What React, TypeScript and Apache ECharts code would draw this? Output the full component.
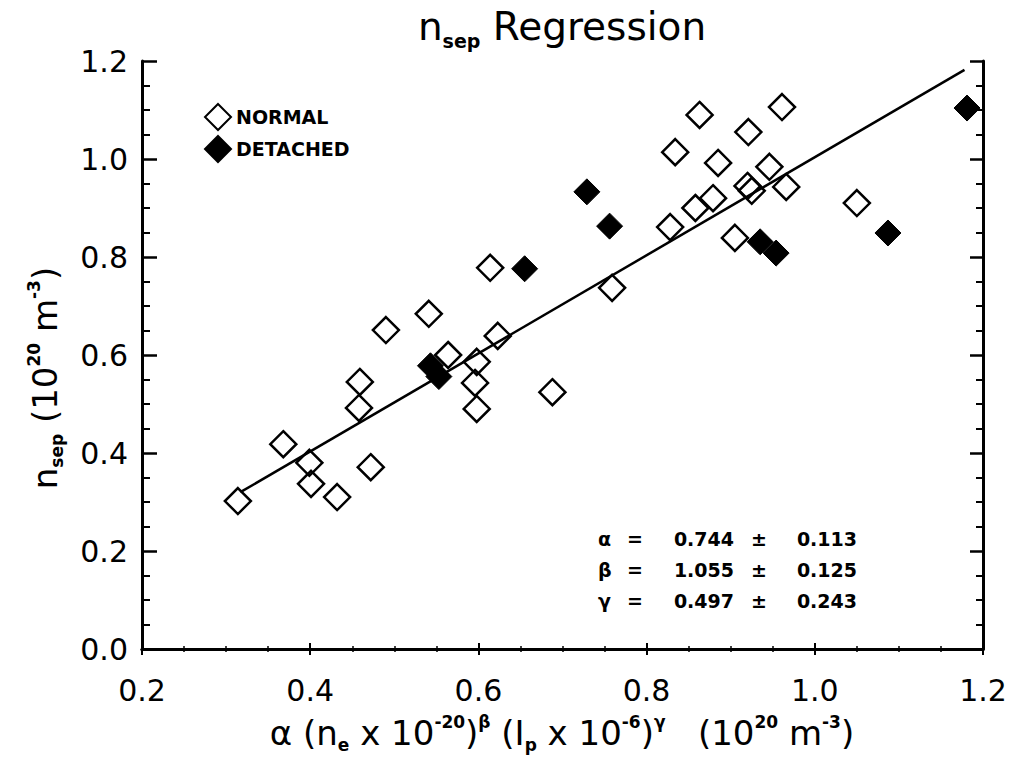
import React, { useEffect, useRef } from "react";
import * as echarts from "echarts";

// ---- data ----
const normalX = [0.314, 0.368, 0.399, 0.401, 0.432, 0.472, 0.458, 0.459, 0.49, 0.541, 0.564, 0.598, 0.596, 0.598, 0.623, 0.688, 0.614, 0.759, 0.828, 0.858, 0.879, 0.834, 0.863, 0.921, 0.961, 0.885, 0.946, 0.92, 0.925, 0.966, 0.905, 1.05];
const normalY = [0.302, 0.418, 0.38, 0.337, 0.31, 0.371, 0.492, 0.545, 0.651, 0.684, 0.6, 0.586, 0.543, 0.49, 0.639, 0.524, 0.778, 0.737, 0.861, 0.9, 0.92, 1.014, 1.09, 1.055, 1.106, 0.992, 0.984, 0.945, 0.935, 0.943, 0.839, 0.91];
const detachedX = [0.543, 0.553, 0.655, 0.729, 0.756, 0.935, 0.954, 1.087, 1.181];
const detachedY = [0.578, 0.556, 0.776, 0.933, 0.863, 0.831, 0.808, 0.849, 1.104];
const fitX = [0.317, 1.178];
const fitY = [0.32, 1.182];

const seriesNames = ["NORMAL", "DETACHED"];
const paramSymbols = ["α", "β", "γ"];
const paramValues = ["0.744", "1.055", "0.497"];
const paramErrors = ["0.113", "0.125", "0.243"];

const FONT = "DejaVu Sans";

export default function App() {
  const ref = useRef<HTMLDivElement>(null);
  useEffect(() => {
    document.body.style.margin = "0";
    const chart = echarts.init(ref.current!, null, { renderer: "svg" });

    const axisCommon = {
      type: "value" as const,
      axisLine: { show: true, lineStyle: { color: "#000", width: 3 } },
      splitLine: { show: false },
    };

    const baseRich = {
      b: { fontSize: 34, fontFamily: FONT, fill: "#000", lineHeight: 40 },
      sub: { fontSize: 17, fontFamily: FONT, fontWeight: "bold", fill: "#000", lineHeight: 18, verticalAlign: "bottom" },
      sup: { fontSize: 17, fontFamily: FONT, fontWeight: "bold", fill: "#000", lineHeight: 18, verticalAlign: "top" },
    };

    const paramGraphics: any[] = [];
    paramSymbols.forEach((s, i) => {
      const y = 539 + i * 31;
      const st = { fontSize: 19, fontFamily: FONT, fontWeight: "bold", fill: "#000", verticalAlign: "middle" };
      paramGraphics.push({ type: "text", x: 598, y, style: { ...st, text: s, align: "left" } });
      paramGraphics.push({ type: "text", x: 635, y, style: { ...st, text: "=", align: "center" } });
      paramGraphics.push({ type: "text", x: 734, y, style: { ...st, text: paramValues[i], align: "right" } });
      paramGraphics.push({ type: "text", x: 759, y, style: { ...st, text: "±", align: "center" } });
      paramGraphics.push({ type: "text", x: 857, y, style: { ...st, text: paramErrors[i], align: "right" } });
    });

    chart.setOption({
      animation: false,
      backgroundColor: "#fff",
      grid: { left: 142, right: 34, top: 61, bottom: 112 },
      legend: {
        data: seriesNames,
        orient: "vertical",
        left: 199,
        top: 98,
        itemWidth: 26,
        itemHeight: 26,
        itemGap: 4,
        textStyle: { fontSize: 19, fontWeight: "bold", fontFamily: FONT, color: "#000" },
      },
      xAxis: [
        {
          ...axisCommon,
          position: "bottom",
          min: 0.2,
          max: 1.2,
          interval: 0.2,
          axisTick: { show: true, inside: true, length: 6, lineStyle: { color: "#000", width: 2 } },
          minorTick: { show: true, splitNumber: 4, length: 3, lineStyle: { color: "#000", width: 1.5 } },
          axisLabel: { fontSize: 30, fontFamily: FONT, color: "#000", margin: 26, formatter: (v: number) => v.toFixed(1) },
        },
        {
          ...axisCommon,
          position: "top",
          min: 0.2,
          max: 1.2,
          interval: 0.2,
          axisTick: { show: true, inside: true, length: 6, lineStyle: { color: "#000", width: 2 } },
          minorTick: { show: true, splitNumber: 4, length: 3, lineStyle: { color: "#000", width: 1.5 } },
          axisLabel: { show: false },
        },
      ],
      yAxis: [
        {
          ...axisCommon,
          position: "left",
          min: 0,
          max: 1.2,
          interval: 0.2,
          axisTick: { show: true, inside: true, length: 15, lineStyle: { color: "#000", width: 2.5 } },
          minorTick: { show: true, splitNumber: 4, length: 8, lineStyle: { color: "#000", width: 2 } },
          axisLabel: { fontSize: 30, fontFamily: FONT, color: "#000", margin: 14, formatter: (v: number) => v.toFixed(1) },
        },
        {
          ...axisCommon,
          position: "right",
          min: 0,
          max: 1.2,
          interval: 0.2,
          axisTick: { show: true, inside: true, length: 13, lineStyle: { color: "#000", width: 2.5 } },
          minorTick: { show: true, splitNumber: 4, length: 7, lineStyle: { color: "#000", width: 2 } },
          axisLabel: { show: false },
        },
      ],
      series: [
        {
          name: "fit",
          type: "line",
          data: fitX.map((x, i) => [x, fitY[i]]),
          symbol: "none",
          silent: true,
          lineStyle: { color: "#000", width: 2.5 },
          z: 1,
        },
        {
          name: seriesNames[0],
          type: "scatter",
          symbol: "diamond",
          symbolSize: 26,
          data: normalX.map((x, i) => [x, normalY[i]]),
          itemStyle: { color: "rgba(255,255,255,0)", borderColor: "#000", borderWidth: 2.5, opacity: 1 },
          z: 3,
        },
        {
          name: seriesNames[1],
          type: "scatter",
          symbol: "diamond",
          symbolSize: 26,
          data: detachedX.map((x, i) => [x, detachedY[i]]),
          itemStyle: { color: "#000", borderColor: "#000", borderWidth: 1, opacity: 1 },
          z: 4,
        },
      ],
      graphic: [
        {
          type: "text",
          x: 562,
          y: 26,
          style: {
            text: "{b|n}{sub|sep}{b| Regression}",
            align: "center",
            verticalAlign: "middle",
            rich: {
              b: { fontSize: 39, fontFamily: FONT, fill: "#000", lineHeight: 48 },
              sub: { fontSize: 19, fontFamily: FONT, fontWeight: "bold", fill: "#000", lineHeight: 20, verticalAlign: "bottom" },
            },
          },
        },
        {
          type: "text",
          x: 562,
          y: 733,
          style: {
            text: "{b|α (n}{sub|e}{b| x 10}{sup|-20}{b|)}{sup|β}{b| (I}{sub|p}{b| x 10}{sup|-6}{b|)}{sup|γ}{b|   (10}{sup|20}{b| m}{sup|-3}{b|)}",
            align: "center",
            verticalAlign: "middle",
            rich: baseRich,
          },
        },
        {
          type: "text",
          x: 45,
          y: 378,
          rotation: Math.PI / 2,
          style: {
            text: "{b|n}{sub|sep}{b| (10}{sup|20}{b| m}{sup|-3}{b|)}",
            align: "center",
            verticalAlign: "middle",
            rich: baseRich,
          },
        },
        ...paramGraphics,
      ],
    });
    return () => chart.dispose();
  }, []);
  return <div ref={ref} style={{ width: 1017, height: 761 }} />;
}
